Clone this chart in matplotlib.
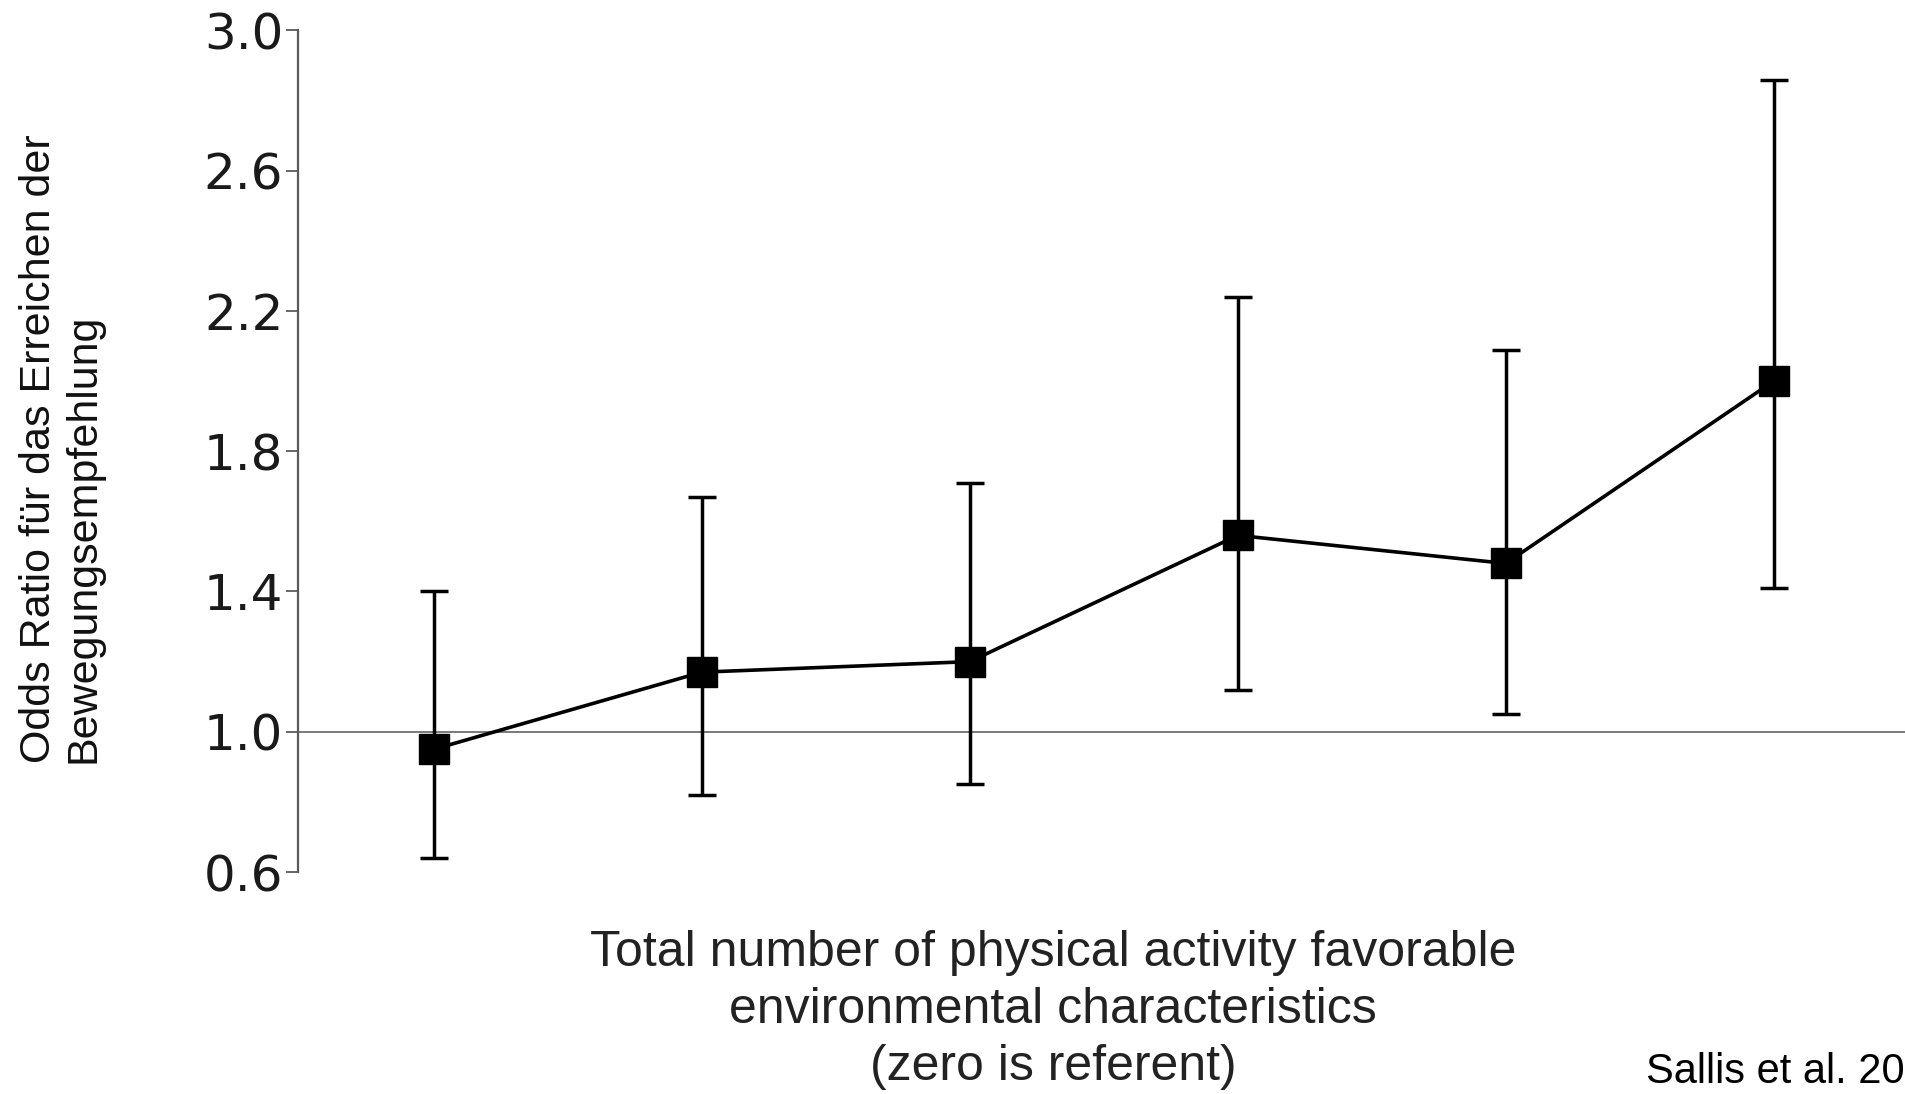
import matplotlib
matplotlib.use('Agg')
from matplotlib import pyplot as plt

# number of favorable characteristics (positions) and odds ratios
pos = [0, 1, 2, 3, 4, 5]
odds = [0.95, 1.17, 1.20, 1.56, 1.48, 2.00]
ci_low = [0.64, 0.82, 0.85, 1.12, 1.05, 1.41]
ci_high = [1.40, 1.67, 1.71, 2.24, 2.09, 2.86]
yticks = [0.6, 1.0, 1.4, 1.8, 2.2, 2.6, 3.0]

plt.rcParams['font.family'] = ['Liberation Sans', 'DejaVu Sans']

fig = plt.figure(figsize=(19.05, 10.94), dpi=100)
ax = fig.add_axes([0.1564, 0.2029, 0.8436, 0.7693])

err = [[o - l for o, l in zip(odds, ci_low)], [h - o for o, h in zip(odds, ci_high)]]
ax.axhline(1.0, color='#6e6e6e', lw=1.3, zorder=1)
ax.errorbar(pos, odds, yerr=err, fmt='s-', color='black', ms=21, lw=2.6,
            elinewidth=2.5, capsize=10, capthick=2.5, zorder=3)

ax.set_xlim(-0.507, 5.49)
ax.set_ylim(0.6, 3.0)
ax.set_yticks(yticks)
ax.set_yticklabels(['%.1f' % t for t in yticks], family='DejaVu Sans', fontsize=36, color='#1a1a1a')
ax.set_xticks([])
for s in ['top', 'right', 'bottom']:
    ax.spines[s].set_visible(False)
ax.spines['left'].set_color('#5a5a5a')
ax.spines['left'].set_linewidth(1.6)
ax.tick_params(axis='y', length=9, width=1.3, color='#5a5a5a', pad=1.5)

fig.text(0.0323, 0.3026, 'Odds Ratio für das Erreichen der\nBewegungsempfehlung',
         rotation=90, ha='center', va='bottom', multialignment='left',
         fontsize=31, color='#111111', linespacing=1.15)
fig.text(0.5528, 0.1500, 'Total number of physical activity favorable\nenvironmental characteristics\n(zero is referent)',
         ha='center', va='top', multialignment='center', fontsize=36, color='#222222', linespacing=1.3)
fig.text(0.864, 0.002, 'Sallis et al. 20', ha='left', va='bottom', fontsize=30, color='black')

fig.savefig('out.png', dpi=100)
